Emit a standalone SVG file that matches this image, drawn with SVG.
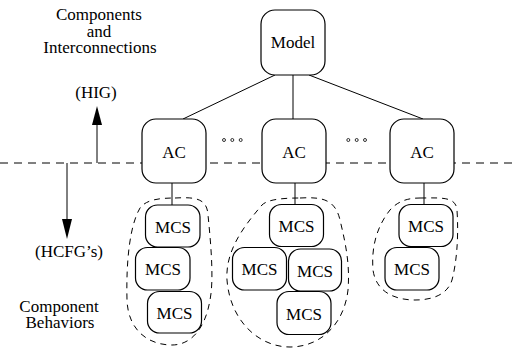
<svg xmlns="http://www.w3.org/2000/svg" width="513" height="349" viewBox="0 0 513 349">
<style>
.box{fill:#fff;stroke:#000;stroke-width:1.2}
text{font-family:'Liberation Serif','Times New Roman',serif;font-size:17px;fill:#000;text-anchor:middle}
.ln{stroke:#000;stroke-width:1;fill:none}
.dash{stroke:#000;stroke-width:1;fill:none;stroke-dasharray:8 6}
.blob{stroke:#000;stroke-width:1;fill:none;stroke-dasharray:6 5}
.dot{fill:#fff;stroke:#000;stroke-width:0.8}
</style>
<rect width="513" height="349" fill="#fff"/>
<g id="labels">
<text x="99" y="20">Components</text>
<text x="99" y="36.5">and</text>
<text x="100" y="53">Interconnections</text>
<text x="96" y="98">(HIG)</text>
<text x="69" y="257">(HCFG’s)</text>
<text x="59" y="312">Component</text>
<text x="60" y="328">Behaviors</text>
</g>
<g id="connectors">
<line class="dash" x1="0" y1="163" x2="513" y2="163"/>
<line class="ln" x1="275" y1="75" x2="183" y2="119"/>
<line class="ln" x1="293" y1="75" x2="293" y2="119"/>
<line class="ln" x1="309" y1="75" x2="423" y2="119"/>
<line class="ln" x1="172" y1="183" x2="172" y2="205"/>
<line class="ln" x1="295" y1="183" x2="295" y2="204"/>
<line class="ln" x1="424" y1="183" x2="424" y2="204"/>
<path class="blob" d="M175,198 C195,197 207,198 208,215 C211,245 214,280 210,300 C205,330 190,345 172,345 C148,345 128,330 127,300 C126,260 130,225 140,208 C146,200 158,198 175,198 Z"/>
<path class="blob" d="M300,198 C320,197 335,198 340,220 C346,245 350,265 348,290 C344,325 320,347 290,347 C258,347 230,320 227,280 C225,250 245,225 262,205 C268,199 285,198 300,198 Z"/>
<path class="blob" d="M420,198 C440,198 456,196 457,210 C459,240 456,265 452,280 C447,296 430,300 415,300 C395,300 376,292 373,270 C371,245 378,225 390,210 C398,201 408,198 420,198 Z"/>
<polygon points="97,106 92,125 102,125" fill="#000"/>
<line class="ln" x1="97" y1="124" x2="97" y2="163"/>
<line class="ln" x1="67" y1="163" x2="67" y2="220"/>
<polygon points="67,239 62,219 72,219" fill="#000"/>
<circle class="dot" cx="224" cy="140" r="1.5"/>
<circle class="dot" cx="232.3" cy="140" r="1.5"/>
<circle class="dot" cx="240.7" cy="140" r="1.5"/>
<circle class="dot" cx="348.3" cy="140" r="1.5"/>
<circle class="dot" cx="356.7" cy="140" r="1.5"/>
<circle class="dot" cx="365" cy="140" r="1.5"/>
</g>
<g id="model"><rect class="box" x="261" y="10" width="64" height="65" rx="14"/><text x="293" y="48">Model</text></g>
<g id="ac1"><rect class="box" x="142" y="119" width="64" height="64" rx="14"/><text x="174" y="158">AC</text></g>
<g id="ac2"><rect class="box" x="262" y="119" width="64" height="64" rx="14"/><text x="294" y="158">AC</text></g>
<g id="ac3"><rect class="box" x="390" y="119" width="64" height="64" rx="14"/><text x="422" y="158">AC</text></g>
<g id="mcs1a"><rect class="box" x="145.5" y="205" width="54.5" height="42" rx="12"/><text x="173" y="232.5">MCS</text></g>
<g id="mcs1b"><rect class="box" x="135.5" y="247.5" width="54.5" height="42.5" rx="12"/><text x="163" y="275">MCS</text></g>
<g id="mcs1c"><rect class="box" x="147.5" y="291.5" width="54" height="41.5" rx="12"/><text x="174.5" y="318.5">MCS</text></g>
<g id="mcs2a"><rect class="box" x="269.5" y="204.5" width="54" height="42" rx="12"/><text x="296.5" y="232">MCS</text></g>
<g id="mcs2b"><rect class="box" x="232.5" y="247.5" width="54" height="42.5" rx="12"/><text x="259.5" y="275">MCS</text></g>
<g id="mcs2c"><rect class="box" x="288.5" y="249" width="53" height="42" rx="12"/><text x="315" y="276.5">MCS</text></g>
<g id="mcs2d"><rect class="box" x="277" y="291.5" width="54" height="43" rx="12"/><text x="304" y="319.5">MCS</text></g>
<g id="mcs3a"><rect class="box" x="399" y="204.5" width="54" height="42" rx="12"/><text x="426" y="232">MCS</text></g>
<g id="mcs3b"><rect class="box" x="385" y="247.5" width="54" height="42.5" rx="12"/><text x="412" y="275">MCS</text></g>
</svg>
